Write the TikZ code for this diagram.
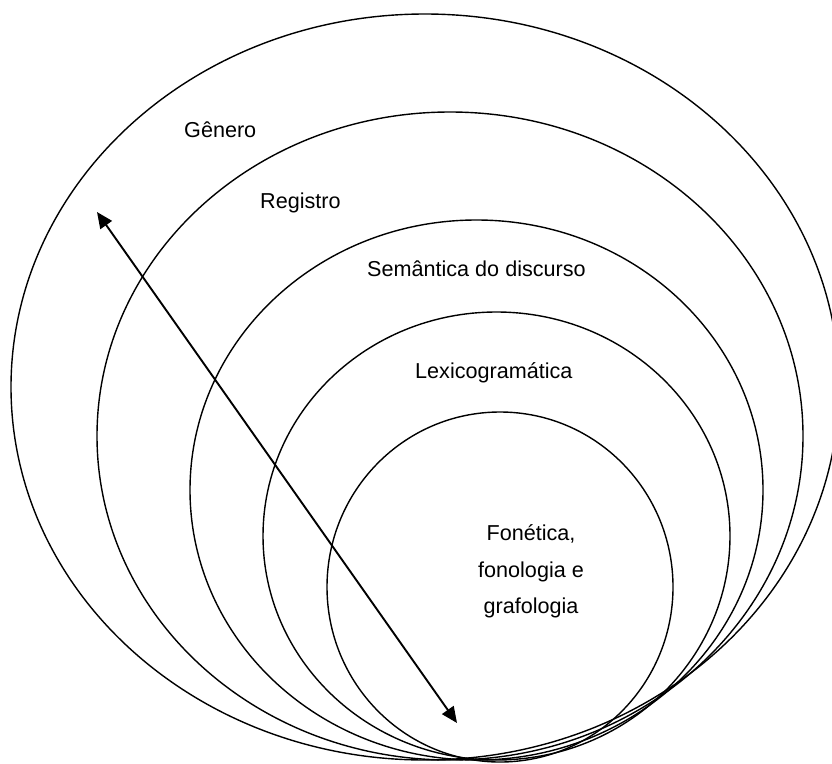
\documentclass[tikz,border=0pt]{standalone}
\usepackage{fontspec}
\setmainfont{Liberation Sans}
\usetikzlibrary{arrows.meta}

\tikzset{
  ring/.style={draw=black, line width=1.4pt},
  lvl/.style={inner sep=0pt, anchor=base west, font=\fontsize{21.6}{26}\selectfont},
  lvlc/.style={inner sep=0pt, anchor=base, font=\fontsize{21.6}{26}\selectfont},
  scale arrow/.style={line width=1.9pt, {Triangle[length=16pt,width=14pt]}-{Triangle[length=16pt,width=14pt]}}
}

\begin{document}
\begin{tikzpicture}[x=1pt, y=-1pt]
  \useasboundingbox (0,0) rectangle (832,763);
  \fill[white] (0,0) rectangle (832,763);
  \clip (0,0) rectangle (832,763);

  % nested strata, all touching near the bottom
  \draw[ring] (425,387) ellipse [x radius=414pt, y radius=373pt];
  \draw[ring] (450,436) ellipse [x radius=353pt, y radius=324pt];
  \draw[ring] (476.5,490) ellipse [x radius=286.5pt, y radius=270pt];
  \draw[ring] (496.5,536) ellipse [x radius=233.5pt, y radius=224pt];
  \draw[ring] (500,587) ellipse [x radius=173pt, y radius=175pt];

  % labels of the strata
  \node[lvl] (genero) at (184,137) {Gênero};
  \node[lvl] (registro) at (260,208) {Registro};
  \node[lvl] (semantica) at (367,276) {Semântica do discurso};
  \node[lvl] (lexico) at (415,378) {Lexicogramática};
  \node[lvlc] (fon1) at (531,540) {Fonética,};
  \node[lvlc] (fon2) at (531,577) {fonologia e};
  \node[lvlc] (fon3) at (531,613) {grafologia};

  % double-headed arrow across the strata
  \coordinate (arrowtop) at (97,212);
  \coordinate (arrowbottom) at (457,723);
  \draw[scale arrow] (arrowtop) -- (arrowbottom);
\end{tikzpicture}
\end{document}
